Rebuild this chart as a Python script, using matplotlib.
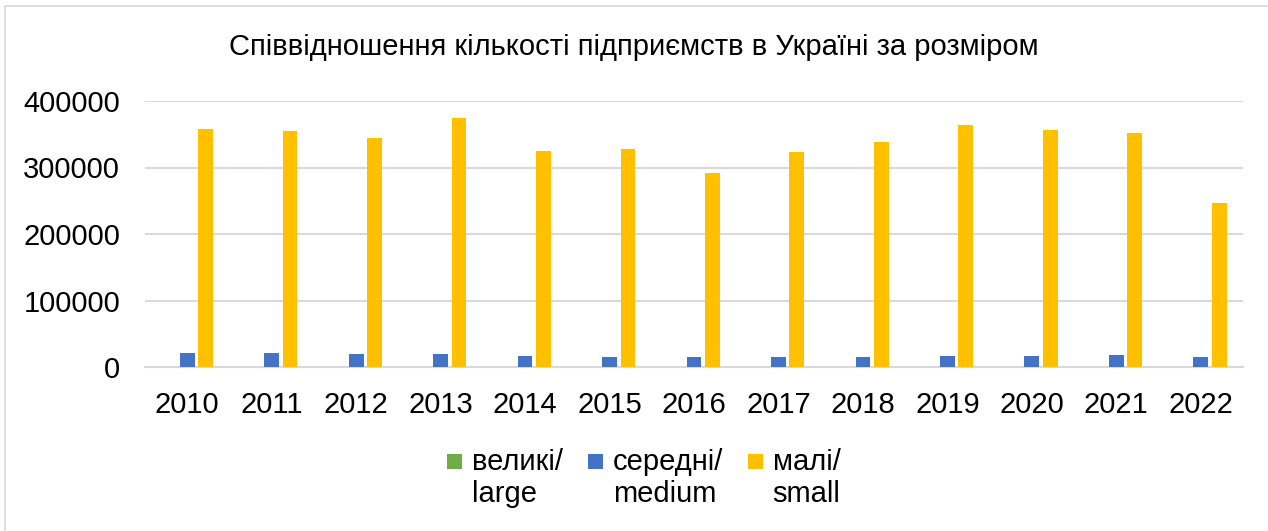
import matplotlib
matplotlib.use("Agg")
import matplotlib.pyplot as plt
from matplotlib.patches import Rectangle
from matplotlib.lines import Line2D
from matplotlib.container import BarContainer
from matplotlib.legend_handler import HandlerPatch, update_from_first_child
import numpy as np

plt.rcParams['font.family'] = ['Liberation Sans', 'DejaVu Sans']

years = ["2010", "2011", "2012", "2013", "2014", "2015", "2016",
         "2017", "2018", "2019", "2020", "2021", "2022"]
large = [586, 659, 698, 659, 497, 423, 383, 399, 446, 512, 512, 518, 450]
medium = [20983, 20753, 20189, 18859, 15906, 15203, 14832, 14937, 15749,
          17127, 17202, 17400, 15200]
small = [357241, 354283, 344048, 373809, 324598, 327814, 291154, 322920,
         338595, 363263, 356400, 352400, 246500]
series_labels = ["великі/\nlarge", "середні/\nmedium", "малі/\nsmall"]
colors = ["#70AD47", "#4472C4", "#FFC000"]
title = "Співвідношення кількості підприємств в Україні за розміром"

FS = 21
W, H = 1268, 531

fig = plt.figure(figsize=(W/100, H/100), dpi=100)
ax = fig.add_axes([145/W, 1-367/H, (1243-145)/W, (367-101)/H])

x = np.arange(len(years))
w = 0.175
step = 0.218
for i, (vals, lab, c) in enumerate(zip([large, medium, small], series_labels, colors)):
    ax.bar(x + (i-1)*step, vals, width=w, color=c, label=lab, zorder=3)

ax.set_xlim(-0.5, len(years)-0.5)
ax.set_ylim(0, 400000)
ax.set_yticks(range(0, 400001, 100000))
ax.set_yticklabels([str(v) for v in range(0, 400001, 100000)])
ax.set_xticks(x)
ax.set_xticklabels(years)
ax.tick_params(axis='both', length=0, labelsize=FS, colors='#000000')
ax.tick_params(axis='x', pad=17)
ax.tick_params(axis='y', pad=18)
ax.grid(axis='y', color='#D9D9D9', linewidth=1.5, zorder=0)
for s in ['left', 'right', 'top']:
    ax.spines[s].set_visible(False)
ax.spines['bottom'].set_color('#D9D9D9')
ax.spines['bottom'].set_linewidth(1.5)

fig.text(0.5, 1-47/H, title, ha='center', va='center', fontsize=FS)


def top_square(legend, orig_handle, xdescent, ydescent, width, height, fontsize):
    s = width
    return Rectangle((-xdescent, -ydescent + height - s + 0.22 * fontsize), s, s)


leg = fig.legend(loc='center', bbox_to_anchor=(0.5 + 10/W, 1-478/H), ncol=3,
                 frameon=False, fontsize=FS, handlelength=0.5, handleheight=1.6,
                 handletextpad=0.35, columnspacing=0.85,
                 handler_map={BarContainer: HandlerPatch(
                     patch_func=top_square, update_func=update_from_first_child)})
for t in leg.get_texts():
    t.set_linespacing(1.15)

# chart-area border (left and top edges visible)
fig.add_artist(Line2D([4.5/W, 4.5/W, 1.0], [0.0, 1-6/H, 1-6/H],
                      transform=fig.transFigure, color='#D9D9D9', linewidth=1.2))

fig.savefig("out.png", dpi=100)
